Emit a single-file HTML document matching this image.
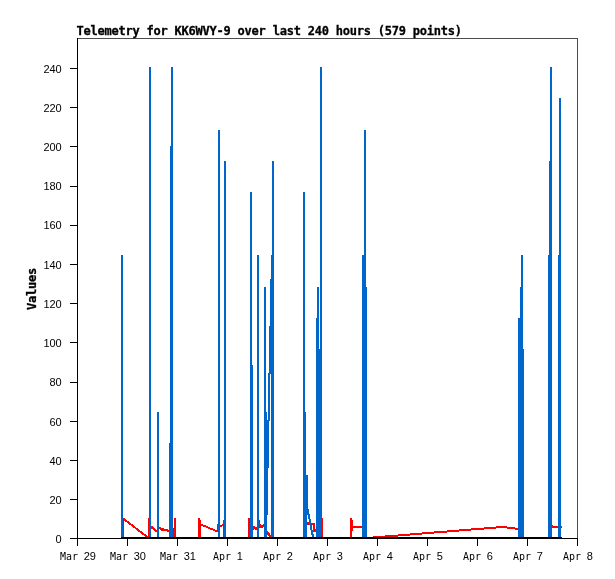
<!DOCTYPE html>
<html><head><meta charset="utf-8"><title>Telemetry for KK6WVY-9</title>
<style>
html,body{margin:0;padding:0;background:#fff}
#c{position:relative;width:615px;height:579px;background:#fff;overflow:hidden}
.yl{margin-left:-0.5px}
.s{position:absolute;font-family:"DejaVu Sans Mono","Liberation Mono",monospace;font-size:10.5px;line-height:12px;height:12px;color:#000;white-space:pre;letter-spacing:-0.32px;text-align:left}
.d{font-family:"Liberation Sans",sans-serif;font-size:11px;letter-spacing:-0.12px}
.xw{position:absolute;top:550px;height:12px;width:40px;font-size:1px;line-height:1px;color:#000}
.dd{left:23.7px;top:0}
.m{left:-0.5px;top:1px;font-size:11px;letter-spacing:0;transform-origin:0 0;transform:scaleX(0.906)}
.t,.v{-webkit-text-stroke:0.3px #000}
.t{position:absolute;left:76.5px;top:24px;font-family:"DejaVu Sans Mono","Liberation Mono",monospace;font-weight:bold;font-size:12px;line-height:14px;color:#000;white-space:pre;letter-spacing:-0.22px}
.v{position:absolute;left:25px;top:310px;font-family:"DejaVu Sans Mono","Liberation Mono",monospace;font-weight:bold;font-size:12px;line-height:14px;color:#000;white-space:pre;letter-spacing:-0.22px;transform-origin:0 0;transform:rotate(-90deg)}
</style></head><body>
<div id="c">
<svg width="615" height="579" viewBox="0 0 615 579" shape-rendering="crispEdges" style="position:absolute;left:0;top:0">
<rect x="122" y="518" width="1" height="21" fill="#ff0000"/>
<rect x="123" y="518" width="1" height="21" fill="#ff0000"/>
<rect x="148" y="518" width="1" height="21" fill="#ff0000"/>
<rect x="149" y="518" width="1" height="21" fill="#ff0000"/>
<rect x="173" y="528" width="1" height="11" fill="#ff0000"/>
<rect x="174" y="518" width="1" height="21" fill="#ff0000"/>
<rect x="175" y="518" width="1" height="21" fill="#ff0000"/>
<rect x="198" y="518" width="1" height="21" fill="#ff0000"/>
<rect x="199" y="518" width="1" height="21" fill="#ff0000"/>
<rect x="200" y="520" width="1" height="19" fill="#ff0000"/>
<rect x="217" y="524" width="1" height="8" fill="#ff0000"/>
<rect x="223" y="520" width="1" height="19" fill="#ff0000"/>
<rect x="248" y="518" width="1" height="21" fill="#ff0000"/>
<rect x="249" y="518" width="1" height="21" fill="#ff0000"/>
<rect x="259" y="520" width="1" height="8" fill="#ff0000"/>
<rect x="260" y="524" width="1" height="4" fill="#ff0000"/>
<rect x="261" y="525" width="1" height="3" fill="#ff0000"/>
<rect x="262" y="525" width="1" height="3" fill="#ff0000"/>
<rect x="263" y="524" width="1" height="3" fill="#ff0000"/>
<rect x="253" y="526" width="1" height="4" fill="#ff0000"/>
<rect x="254" y="526" width="1" height="3" fill="#ff0000"/>
<rect x="255" y="527" width="1" height="3" fill="#ff0000"/>
<rect x="256" y="527" width="1" height="3" fill="#ff0000"/>
<rect x="322" y="518" width="1" height="21" fill="#ff0000"/>
<rect x="350" y="518" width="1" height="21" fill="#ff0000"/>
<rect x="351" y="518" width="1" height="21" fill="#ff0000"/>
<rect x="352" y="520" width="1" height="11" fill="#ff0000"/>
<rect x="352" y="526" width="10" height="2" fill="#ff0000"/>
<rect x="552" y="526" width="10" height="2" fill="#ff0000"/>
<rect x="552" y="525" width="1" height="1" fill="#ff0000"/>
<polyline points="123,518.5 148,537.5" fill="none" stroke="#ff0000" stroke-width="2"/>
<rect x="151" y="526" width="1" height="3" fill="#ff0000"/>
<rect x="152" y="526" width="1" height="3" fill="#ff0000"/>
<rect x="153" y="527" width="1" height="3" fill="#ff0000"/>
<rect x="154" y="528" width="1" height="3" fill="#ff0000"/>
<rect x="155" y="529" width="1" height="3" fill="#ff0000"/>
<rect x="156" y="530" width="1" height="2" fill="#ff0000"/>
<rect x="159" y="527" width="1" height="2" fill="#ff0000"/>
<rect x="160" y="527" width="1" height="3" fill="#ff0000"/>
<rect x="161" y="528" width="1" height="3" fill="#ff0000"/>
<rect x="162" y="528" width="1" height="3" fill="#ff0000"/>
<rect x="163" y="528" width="1" height="3" fill="#ff0000"/>
<rect x="164" y="529" width="1" height="2" fill="#ff0000"/>
<rect x="165" y="529" width="1" height="2" fill="#ff0000"/>
<rect x="166" y="529" width="1" height="2" fill="#ff0000"/>
<rect x="167" y="529" width="1" height="3" fill="#ff0000"/>
<rect x="168" y="530" width="1" height="2" fill="#ff0000"/>
<rect x="201" y="524" width="2" height="2" fill="#ff0000"/>
<rect x="203" y="525" width="3" height="2" fill="#ff0000"/>
<rect x="206" y="526" width="2" height="2" fill="#ff0000"/>
<rect x="208" y="527" width="2" height="2" fill="#ff0000"/>
<rect x="210" y="528" width="3" height="2" fill="#ff0000"/>
<rect x="213" y="529" width="2" height="2" fill="#ff0000"/>
<rect x="215" y="530" width="2" height="2" fill="#ff0000"/>
<rect x="220" y="525" width="2" height="2" fill="#ff0000"/>
<rect x="222" y="524" width="1" height="2" fill="#ff0000"/>
<polyline points="267,531.5 271,538" fill="none" stroke="#ff0000" stroke-width="2.4"/>
<rect x="307" y="523" width="8" height="2" fill="#ff0000"/>
<rect x="307" y="522" width="2" height="1" fill="#ff0000"/>
<rect x="313" y="525" width="2" height="4" fill="#ff0000"/>
<rect x="313" y="529" width="3" height="3" fill="#ff0000"/>
<rect x="373" y="536" width="12" height="2" fill="#ff0000"/>
<rect x="385" y="535" width="13" height="2" fill="#ff0000"/>
<rect x="398" y="534" width="12" height="2" fill="#ff0000"/>
<rect x="410" y="533" width="12" height="2" fill="#ff0000"/>
<rect x="422" y="532" width="12" height="2" fill="#ff0000"/>
<rect x="434" y="531" width="13" height="2" fill="#ff0000"/>
<rect x="447" y="530" width="12" height="2" fill="#ff0000"/>
<rect x="459" y="529" width="12" height="2" fill="#ff0000"/>
<rect x="471" y="528" width="13" height="2" fill="#ff0000"/>
<rect x="484" y="527" width="12" height="2" fill="#ff0000"/>
<rect x="496" y="526" width="11" height="2" fill="#ff0000"/>
<rect x="507" y="527" width="8" height="2" fill="#ff0000"/>
<rect x="515" y="528" width="3" height="2" fill="#ff0000"/>
<rect x="121" y="255" width="1" height="284" fill="#0066cc"/>
<rect x="122" y="255" width="1" height="284" fill="#0066cc"/>
<rect x="149" y="67" width="1" height="472" fill="#0066cc"/>
<rect x="150" y="67" width="1" height="472" fill="#0066cc"/>
<rect x="157" y="412" width="1" height="127" fill="#0066cc"/>
<rect x="158" y="412" width="1" height="127" fill="#0066cc"/>
<rect x="169" y="443" width="1" height="96" fill="#0066cc"/>
<rect x="170" y="146" width="1" height="393" fill="#0066cc"/>
<rect x="171" y="67" width="1" height="472" fill="#0066cc"/>
<rect x="172" y="67" width="1" height="472" fill="#0066cc"/>
<rect x="218" y="130" width="1" height="409" fill="#0066cc"/>
<rect x="219" y="130" width="1" height="409" fill="#0066cc"/>
<rect x="224" y="161" width="1" height="378" fill="#0066cc"/>
<rect x="225" y="161" width="1" height="378" fill="#0066cc"/>
<rect x="250" y="192" width="1" height="347" fill="#0066cc"/>
<rect x="251" y="192" width="1" height="347" fill="#0066cc"/>
<rect x="252" y="365" width="1" height="174" fill="#0066cc"/>
<rect x="257" y="255" width="1" height="284" fill="#0066cc"/>
<rect x="258" y="255" width="1" height="284" fill="#0066cc"/>
<rect x="264" y="287" width="1" height="252" fill="#0066cc"/>
<rect x="265" y="287" width="1" height="252" fill="#0066cc"/>
<rect x="266" y="412" width="1" height="127" fill="#0066cc"/>
<rect x="267" y="420" width="1" height="95" fill="#0066cc"/>
<rect x="268" y="373" width="1" height="95" fill="#0066cc"/>
<rect x="269" y="326" width="1" height="95" fill="#0066cc"/>
<rect x="270" y="279" width="1" height="95" fill="#0066cc"/>
<rect x="271" y="255" width="1" height="284" fill="#0066cc"/>
<rect x="272" y="161" width="1" height="378" fill="#0066cc"/>
<rect x="273" y="161" width="1" height="378" fill="#0066cc"/>
<rect x="303" y="192" width="1" height="347" fill="#0066cc"/>
<rect x="304" y="192" width="1" height="347" fill="#0066cc"/>
<rect x="305" y="412" width="1" height="127" fill="#0066cc"/>
<rect x="306" y="475" width="1" height="64" fill="#0066cc"/>
<rect x="307" y="475" width="1" height="40" fill="#0066cc"/>
<rect x="316" y="318" width="1" height="221" fill="#0066cc"/>
<rect x="317" y="287" width="1" height="252" fill="#0066cc"/>
<rect x="318" y="287" width="1" height="252" fill="#0066cc"/>
<rect x="319" y="349" width="1" height="190" fill="#0066cc"/>
<rect x="320" y="67" width="1" height="472" fill="#0066cc"/>
<rect x="321" y="67" width="1" height="472" fill="#0066cc"/>
<rect x="362" y="255" width="1" height="284" fill="#0066cc"/>
<rect x="363" y="255" width="1" height="284" fill="#0066cc"/>
<rect x="364" y="130" width="1" height="409" fill="#0066cc"/>
<rect x="365" y="130" width="1" height="409" fill="#0066cc"/>
<rect x="366" y="287" width="1" height="252" fill="#0066cc"/>
<rect x="518" y="318" width="1" height="221" fill="#0066cc"/>
<rect x="519" y="318" width="1" height="221" fill="#0066cc"/>
<rect x="520" y="287" width="1" height="252" fill="#0066cc"/>
<rect x="521" y="255" width="1" height="284" fill="#0066cc"/>
<rect x="522" y="255" width="1" height="284" fill="#0066cc"/>
<rect x="523" y="349" width="1" height="190" fill="#0066cc"/>
<rect x="548" y="255" width="1" height="284" fill="#0066cc"/>
<rect x="549" y="161" width="1" height="378" fill="#0066cc"/>
<rect x="550" y="67" width="1" height="472" fill="#0066cc"/>
<rect x="551" y="67" width="1" height="472" fill="#0066cc"/>
<rect x="558" y="255" width="1" height="284" fill="#0066cc"/>
<rect x="559" y="98" width="1" height="441" fill="#0066cc"/>
<rect x="560" y="98" width="1" height="441" fill="#0066cc"/>
<rect x="308" y="509" width="1" height="10" fill="#0066cc"/>
<rect x="309" y="514" width="1" height="11" fill="#0066cc"/>
<rect x="310" y="519" width="1" height="11" fill="#0066cc"/>
<rect x="311" y="525" width="1" height="10" fill="#0066cc"/>
<rect x="312" y="530" width="1" height="7" fill="#0066cc"/>
<rect x="313" y="534" width="1" height="3" fill="#0066cc"/>
<rect x="121" y="537" width="441" height="2" fill="#000"/>
<rect x="78" y="38" width="500" height="1" fill="#4c4c4c"/>
<rect x="577" y="38" width="1" height="500" fill="#4c4c4c"/>
<rect x="77" y="538" width="501" height="1" fill="#000"/>
<rect x="77" y="38" width="1" height="501" fill="#000"/>
<rect x="70" y="538" width="7" height="1" fill="#000"/>
<rect x="70" y="499" width="7" height="1" fill="#000"/>
<rect x="70" y="460" width="7" height="1" fill="#000"/>
<rect x="70" y="421" width="7" height="1" fill="#000"/>
<rect x="70" y="382" width="7" height="1" fill="#000"/>
<rect x="70" y="342" width="7" height="1" fill="#000"/>
<rect x="70" y="303" width="7" height="1" fill="#000"/>
<rect x="70" y="264" width="7" height="1" fill="#000"/>
<rect x="70" y="225" width="7" height="1" fill="#000"/>
<rect x="70" y="186" width="7" height="1" fill="#000"/>
<rect x="70" y="146" width="7" height="1" fill="#000"/>
<rect x="70" y="107" width="7" height="1" fill="#000"/>
<rect x="70" y="68" width="7" height="1" fill="#000"/>
<rect x="77" y="538" width="1" height="8" fill="#000"/>
<rect x="127" y="538" width="1" height="8" fill="#000"/>
<rect x="177" y="538" width="1" height="8" fill="#000"/>
<rect x="227" y="538" width="1" height="8" fill="#000"/>
<rect x="277" y="538" width="1" height="8" fill="#000"/>
<rect x="327" y="538" width="1" height="8" fill="#000"/>
<rect x="377" y="538" width="1" height="8" fill="#000"/>
<rect x="427" y="538" width="1" height="8" fill="#000"/>
<rect x="477" y="538" width="1" height="8" fill="#000"/>
<rect x="527" y="538" width="1" height="8" fill="#000"/>
<rect x="577" y="538" width="1" height="8" fill="#000"/>
</svg>
<div class="t">Telemetry for KK6WVY-9 over last 240 hours (579 points)</div>
<div class="v">Values</div>
<div class="xw" style="left:60px"><span class="s m">Mar</span> <span class="s d dd">29</span></div>
<div class="xw" style="left:110px"><span class="s m">Mar</span> <span class="s d dd">30</span></div>
<div class="xw" style="left:160px"><span class="s m">Mar</span> <span class="s d dd">31</span></div>
<div class="xw" style="left:213px"><span class="s m">Apr</span> <span class="s d dd">1</span></div>
<div class="xw" style="left:263px"><span class="s m">Apr</span> <span class="s d dd">2</span></div>
<div class="xw" style="left:313px"><span class="s m">Apr</span> <span class="s d dd">3</span></div>
<div class="xw" style="left:363px"><span class="s m">Apr</span> <span class="s d dd">4</span></div>
<div class="xw" style="left:413px"><span class="s m">Apr</span> <span class="s d dd">5</span></div>
<div class="xw" style="left:463px"><span class="s m">Apr</span> <span class="s d dd">6</span></div>
<div class="xw" style="left:513px"><span class="s m">Apr</span> <span class="s d dd">7</span></div>
<div class="xw" style="left:563px"><span class="s m">Apr</span> <span class="s d dd">8</span></div>
<div class="s yl" style="left:56px;top:533px;width:6px"><span class="d">0</span></div>
<div class="s yl" style="left:50px;top:494px;width:12px"><span class="d">20</span></div>
<div class="s yl" style="left:50px;top:455px;width:12px"><span class="d">40</span></div>
<div class="s yl" style="left:50px;top:416px;width:12px"><span class="d">60</span></div>
<div class="s yl" style="left:50px;top:376px;width:12px"><span class="d">80</span></div>
<div class="s yl" style="left:44px;top:337px;width:18px"><span class="d">100</span></div>
<div class="s yl" style="left:44px;top:298px;width:18px"><span class="d">120</span></div>
<div class="s yl" style="left:44px;top:259px;width:18px"><span class="d">140</span></div>
<div class="s yl" style="left:44px;top:219px;width:18px"><span class="d">160</span></div>
<div class="s yl" style="left:44px;top:180px;width:18px"><span class="d">180</span></div>
<div class="s yl" style="left:44px;top:141px;width:18px"><span class="d">200</span></div>
<div class="s yl" style="left:44px;top:102px;width:18px"><span class="d">220</span></div>
<div class="s yl" style="left:44px;top:63px;width:18px"><span class="d">240</span></div>
</div>
</body></html>
